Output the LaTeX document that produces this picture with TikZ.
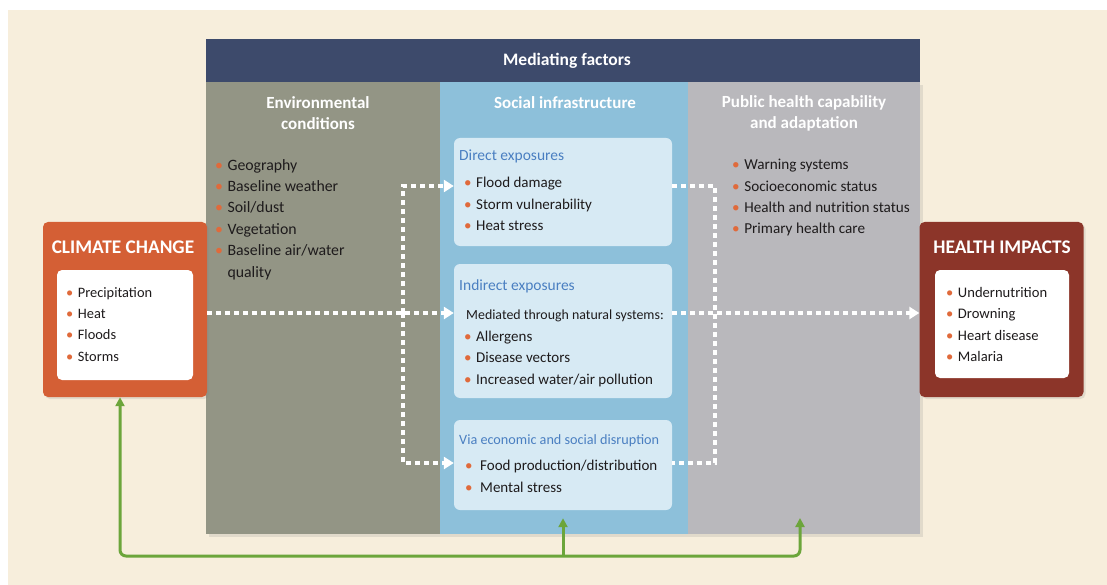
\documentclass[tikz,border=0pt]{standalone}
\usepackage{fontspec}
\setmainfont{Carlito}
\usetikzlibrary{arrows.meta, positioning, shadows}
\definecolor{creambg}{HTML}{F7EEDC}
\definecolor{navyhead}{HTML}{3D4A6B}
\definecolor{envgray}{HTML}{939585}
\definecolor{socblue}{HTML}{8DC0DA}
\definecolor{phgray}{HTML}{B9B8BC}
\definecolor{paleblue}{HTML}{D7EAF4}
\definecolor{ccorange}{HTML}{D45F35}
\definecolor{hired}{HTML}{8C3529}
\definecolor{titleblue}{HTML}{4A7FC1}
\definecolor{dotorange}{HTML}{E06A3B}
\definecolor{inkdark}{HTML}{1E1B1C}
\definecolor{loopgreen}{HTML}{6CA53B}
\newcommand\bul{{\color{dotorange}\textbullet}\hspace{4.5pt}}

\begin{document}
\begin{tikzpicture}[x=1pt, y=-1pt,
  font=\fontsize{15}{21.4}\selectfont,
  col/.style    = {minimum width=#1, minimum height=452pt, inner sep=0pt,
                   drop shadow={opacity=0.18, shadow xshift=3pt, shadow yshift=-3pt}},
  sidebox/.style= {minimum width=164pt, minimum height=175pt, inner sep=0pt,
                   rounded corners=5pt,
                   drop shadow={opacity=0.18, shadow xshift=2pt, shadow yshift=-2pt}},
  whitebox/.style={fill=white, rounded corners=5pt, minimum width=136pt,
                   minimum height=110pt, inner sep=0pt},
  expbox/.style = {fill=paleblue, rounded corners=6pt, minimum width=218pt, inner sep=0pt},
  coltitle/.style={font=\fontsize{17}{21}\selectfont\bfseries, text=white, align=center},
  bigtitle/.style={font=\fontsize{19.3}{22}\selectfont\bfseries, text=white},
  lst/.style    = {align=left, inner sep=0pt, anchor=north west, text=inkdark},
  dashflow/.style={draw=white, line width=3.3pt, dash pattern=on 5pt off 4pt,
                   -{Triangle[length=10pt, width=12pt]}},
  dashline/.style={draw=white, line width=3.3pt, dash pattern=on 5pt off 4pt},
  grflow/.style = {draw=loopgreen, line width=3pt, -{Triangle[length=9pt, width=9pt]}},
]
\useasboundingbox (0,0) rectangle (1107,585);
\fill[white] (0,0) rectangle (1107,585);
\fill[creambg] (8,10) rectangle (1107,585);

% ---- mediating factors columns
\node[col=234pt, fill=envgray] (envcol) at (323,308) {};
\node[col=248pt, fill=socblue] (soccol) at (564,308) {};
\node[col=232pt, fill=phgray]  (phcol)  at (804,308) {};
\node[fill=navyhead, minimum width=714pt, minimum height=43pt, inner sep=0pt,
      font=\fontsize{17.5}{18}\selectfont\bfseries, text=white] (hdr) at (563,60.5)
      {\hspace*{8pt}Mediating factors};

\node[coltitle] (envhead) at (318,113) {Environmental\\conditions};
\node[coltitle] (sochead) at (565,103) {Social infrastructure};
\node[coltitle] (phhead)  at (804,113) {Public health capability\\and adaptation};

\node[lst, font=\fontsize{15.8}{21.4}\selectfont] (envlist) at (215,159)
  {\bul Geography\\ \bul Baseline weather\\ \bul Soil/dust\\ \bul Vegetation\\
   \bul Baseline air/water\\ \phantom{\bul}quality};
\node[lst, font=\fontsize{15.2}{21.4}\selectfont] (phlist) at (732,159)
  {\bul Warning systems\\ \bul Socioeconomic status\\
   \bul Health and nutrition status\\ \bul Primary health care};

% ---- the three exposure boxes
\node[expbox, minimum height=108pt] (direct)   at (563,192) {};
\node[expbox, minimum height=134pt] (indirect) at (563,331) {};
\node[expbox, minimum height=90pt]  (via)      at (563,465) {};

\node[lst] (directtxt) at (459,150)
  {{\fontsize{15.5}{18}\selectfont\color{titleblue}Direct exposures}\\[5.5pt]
   \hspace{5pt}\bul Flood damage\\ \hspace{5pt}\bul Storm vulnerability\\
   \hspace{5pt}\bul Heat stress};
\node[lst] (indirecttxt) at (459,280)
  {{\fontsize{15.5}{18}\selectfont\color{titleblue}Indirect exposures}\\[7.5pt]
   \hspace{7pt}{\fontsize{13.9}{18}\selectfont Mediated through natural systems:}\\
   \hspace{5pt}\bul Allergens\\ \hspace{5pt}\bul Disease vectors\\
   \hspace{5pt}\bul Increased water/air pollution};
\node[lst] (viatxt) at (459,434)
  {{\fontsize{14.2}{18}\selectfont\color{titleblue}Via economic and social disruption}\\[5.5pt]
   \hspace{6pt}\bul\hspace{3pt}Food production/distribution\\
   \hspace{6pt}\bul\hspace{3pt}Mental stress};

% ---- climate change and health impacts
\node[sidebox, fill=ccorange] (climate) at (125,309.5) {};
\node[bigtitle] (climatehead) at (123,247) {CLIMATE CHANGE};
\node[whitebox] (climatein) at (125,325) {};
\node[lst, font=\fontsize{14.4}{21.4}\selectfont] (climatelist) at (66,287)
  {\bul Precipitation\\ \bul Heat\\ \bul Floods\\ \bul Storms};

\node[sidebox, fill=hired] (health) at (1001.5,309.5) {};
\node[bigtitle] (healthhead) at (1002,247) {HEALTH IMPACTS};
\node[whitebox, minimum width=134pt, minimum height=108pt] (healthin) at (1002,324) {};
\node[lst, font=\fontsize{14.6}{21.4}\selectfont] (healthlist) at (946,287)
  {\bul Undernutrition\\ \bul Drowning\\ \bul Heart disease\\ \bul Malaria};

% ---- dashed pathways
\coordinate (mid)   at (0,313);
\coordinate (dy)    at (0,186);
\coordinate (vy)    at (0,463);
\coordinate (split) at (403,313);
\coordinate (join)  at (715,313);

\draw[dashflow] (climate.east |- mid) -- (indirect.west |- mid);
\draw[dashflow] (split) |- (direct.west |- dy);
\draw[dashflow] (split) |- (via.west |- vy);
\draw[dashline] (direct.east |- dy) -| (join |- vy) -- (via.east |- vy);
\draw[dashflow] (indirect.east |- mid) -- (health.west |- mid);

% ---- feedback loop
\coordinate (gloop) at (120,556);
\coordinate (gph)   at (800,518);
\draw[grflow, {Triangle[length=9pt, width=9pt]}-{Triangle[length=9pt, width=9pt]},
      rounded corners=6pt] (gloop |- climate.south) -- (gloop) -| (gph);
\draw[grflow] (via.south |- gloop) -- ([yshift=-8pt]via.south);

\end{tikzpicture}
\end{document}
